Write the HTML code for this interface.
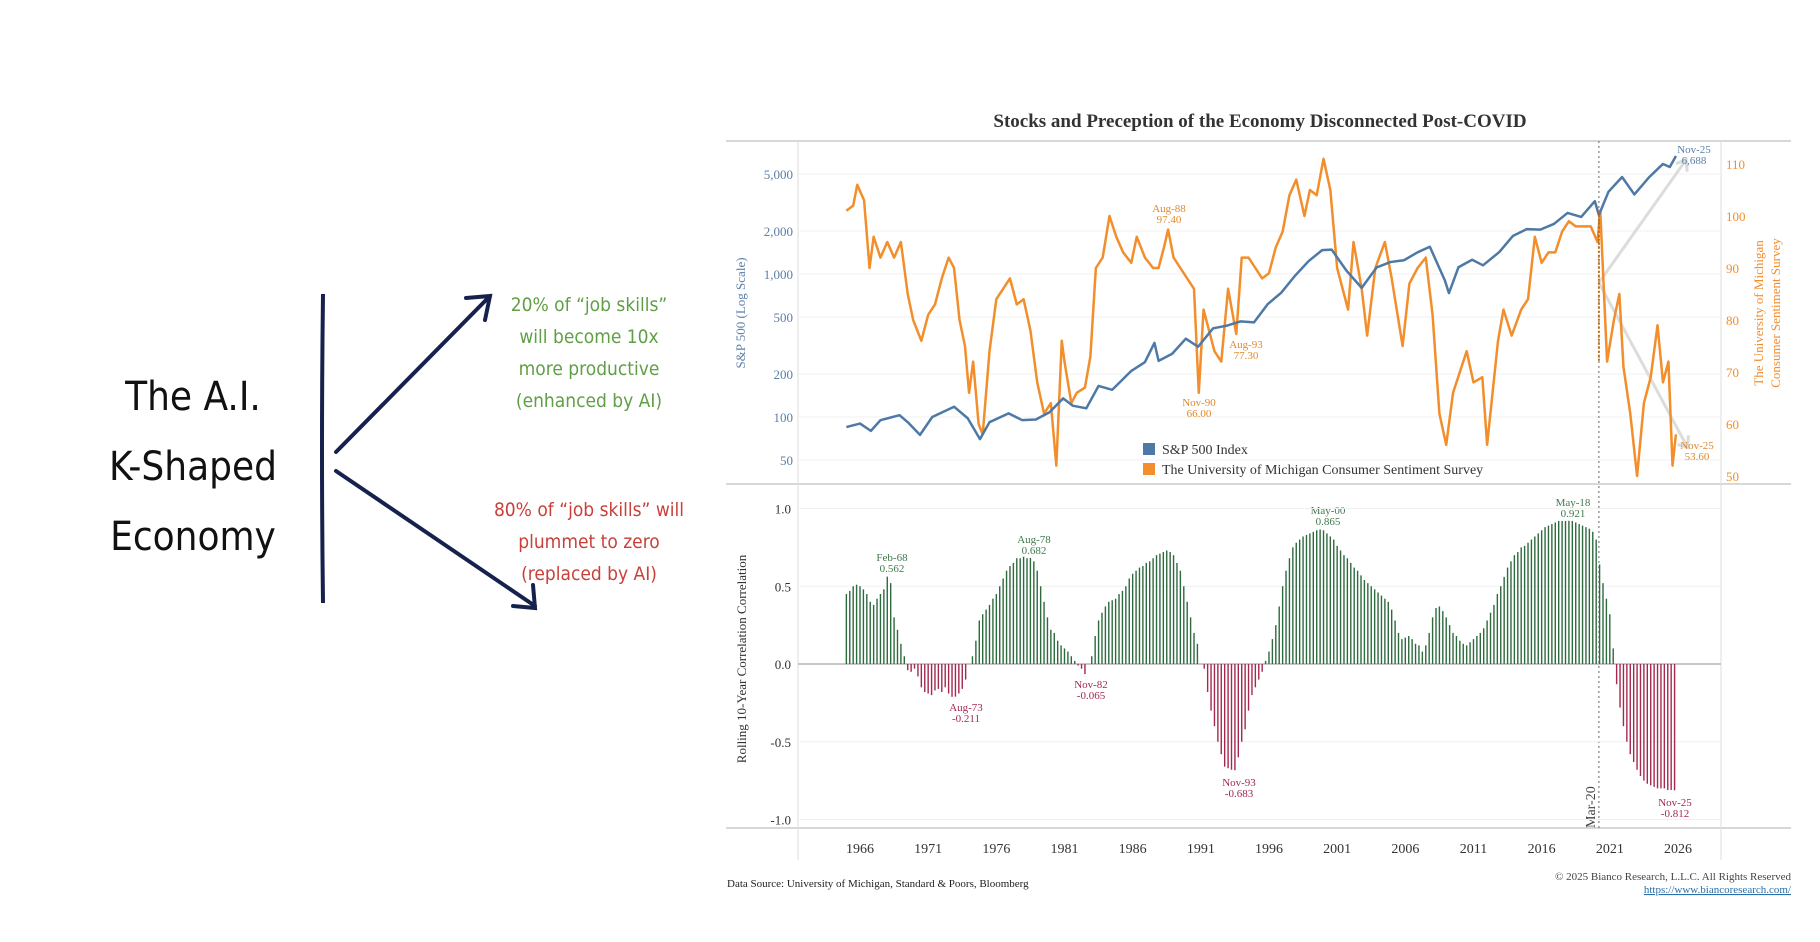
<!DOCTYPE html>
<html><head><meta charset="utf-8"><style>
html,body{margin:0;padding:0;background:#fff;}
svg{display:block;font-family:"Liberation Serif",serif;}
.hand{font-family:"DejaVu Sans Condensed","DejaVu Sans",sans-serif;}
</style></head><body>
<svg id="svg" width="1820" height="942" viewBox="0 0 1820 942" xmlns="http://www.w3.org/2000/svg">
<g>
  <text class="hand" x="193" y="410" font-size="40" text-anchor="middle" fill="#111">The A.I.</text>
  <text class="hand" x="193" y="480" font-size="40" text-anchor="middle" fill="#111">K-Shaped</text>
  <text class="hand" x="193" y="550" font-size="40" text-anchor="middle" fill="#111">Economy</text>
  <path d="M323 294 Q321 450 323 603" stroke="#16224d" stroke-width="4" fill="none"/>
  <path d="M336 452 L490 296 M466 298 L490 296 L485 320" stroke="#16224d" stroke-width="4" fill="none" stroke-linecap="round"/>
  <path d="M336 471 L535 606 M513 606 L535 608 L533 585" stroke="#16224d" stroke-width="4" fill="none" stroke-linecap="round"/>
  <g class="hand" font-size="19" fill="#5f9f45" text-anchor="middle">
    <text x="589" y="311">20% of “job skills”</text>
    <text x="589" y="343">will become 10x</text>
    <text x="589" y="375">more productive</text>
    <text x="589" y="407">(enhanced by AI)</text>
  </g>
  <g class="hand" font-size="19" fill="#c9403a" text-anchor="middle">
    <text x="589" y="516">80% of “job skills” will</text>
    <text x="589" y="548">plummet to zero</text>
    <text x="589" y="580">(replaced by AI)</text>
  </g>
</g>
<text x="1260" y="127" font-size="19" font-weight="bold" text-anchor="middle" fill="#333">Stocks and Preception of the Economy Disconnected Post-COVID</text>
<g id="chart"></g>
<text x="727" y="887" font-size="11" fill="#222">Data Source: University of Michigan, Standard &amp; Poors, Bloomberg</text>
<text x="1791" y="880" font-size="11" fill="#444" text-anchor="end">© 2025 Bianco Research, L.L.C. All Rights Reserved</text>
<text x="1791" y="893" font-size="11" fill="#2a6fa8" text-anchor="end" text-decoration="underline">https://www.biancoresearch.com/</text>
</svg>
<script>
const spxYears=[1965,1966,1966.8,1967.5,1968.9,1969.5,1970.4,1971.3,1972.9,1973.9,1974.8,1975.5,1976.9,1977.9,1978.9,1979.9,1980.9,1981.6,1982.6,1983.5,1984.5,1985.9,1986.9,1987.6,1987.9,1988.9,1989.9,1990.8,1991.9,1992.9,1993.9,1994.9,1995.9,1996.9,1997.9,1998.9,1999.9,2000.6,2001.7,2002.8,2003.9,2004.9,2005.9,2006.9,2007.8,2008.9,2009.2,2009.9,2010.9,2011.7,2012.9,2013.9,2014.9,2015.9,2016.9,2017.9,2018.9,2019.9,2020.2,2020.9,2021.9,2022.8,2023.9,2024.9,2025.4,2025.85];
const spxValues=[85,90,80,95,103,92,75,100,118,98,70,92,106,95,96,108,135,120,115,165,155,210,242,330,247,277,353,310,417,435,466,459,615,740,970,1229,1469,1480,1050,800,1112,1212,1248,1418,1550,903,735,1115,1258,1150,1426,1848,2059,2044,2239,2674,2507,3231,2585,3756,4766,3600,4770,5882,5600,6688];
const sentYears=[1965,1965.5,1965.8,1966.3,1966.7,1967,1967.5,1968,1968.5,1969,1969.5,1969.9,1970.5,1971,1971.5,1972,1972.5,1972.9,1973.3,1973.7,1974,1974.3,1974.7,1975,1975.5,1976,1976.5,1977,1977.5,1978,1978.5,1979,1979.5,1980,1980.4,1980.8,1981,1981.5,1981.9,1982.5,1982.9,1983.3,1983.8,1984.3,1984.8,1985.3,1985.9,1986.3,1986.9,1987.5,1987.9,1988.3,1988.6,1989,1989.5,1990,1990.5,1990.85,1991.2,1991.6,1992,1992.5,1993,1993.6,1994,1994.5,1995,1995.5,1996,1996.5,1997,1997.5,1998,1998.6,1999,1999.5,2000,2000.5,2001,2001.8,2002.2,2002.8,2003.2,2003.8,2004.5,2005,2005.8,2006.3,2006.9,2007.5,2008,2008.5,2009,2009.5,2010,2010.5,2011,2011.65,2012,2012.8,2013.2,2013.8,2014.5,2015,2015.5,2016,2016.5,2017,2017.5,2018,2018.5,2019,2019.6,2020.1,2020.3,2020.8,2021.3,2021.7,2022,2022.5,2023,2023.5,2024,2024.5,2024.9,2025.3,2025.6,2025.85];
const sentValues=[101,102,106,103,90,96,92,95,92,95,85,80,76,81,83,88,92,90,80,75,66,72,60,58,74,84,86,88,83,84,78,68,62,64,52,76,72,64,66,67,73,90,92,100,96,93,91,96,92,90,90,94,97.4,92,90,88,86,66,82,78,74,72,86,77.3,92,92,90,88,89,94,97,104,107,100,105,104,111,105,90,82,95,86,77,90,95,88,75,87,90,92,81,62,56,66,70,74,68,69,56,76,82,77,82,84,96,91,93,93,97,99,98,98,98,95,101,72,80,85,71,62,50,64,69,79,68,72,52,58,53.6];
const corrStart=1965.0;
const corrValues=[.45,.47,.50,.51,.50,.48,.45,.40,.38,.42,.45,.48,.562,.52,.30,.22,.13,.05,-.04,-.05,-.03,-.08,-.15,-.18,-.19,-.20,-.17,-.16,-.18,-.15,-.19,-.211,-.21,-.19,-.16,-.10,0,.05,.15,.28,.32,.35,.38,.42,.45,.50,.55,.60,.63,.65,.68,.68,.69,.68,.682,.66,.60,.50,.40,.30,.22,.20,.15,.12,.10,.08,.05,.02,-.01,-.03,-.065,0,.05,.18,.28,.33,.37,.40,.41,.42,.45,.47,.50,.55,.58,.60,.62,.63,.65,.66,.68,.70,.71,.72,.73,.72,.70,.65,.60,.50,.40,.30,.20,.13,0,-.03,-.18,-.30,-.40,-.50,-.58,-.66,-.67,-.68,-.683,-.60,-.50,-.42,-.30,-.20,-.15,-.10,-.05,.02,.08,.16,.25,.37,.50,.60,.68,.75,.78,.80,.82,.83,.84,.85,.86,.865,.86,.84,.82,.80,.76,.73,.70,.68,.65,.62,.60,.57,.54,.52,.50,.48,.46,.44,.42,.40,.35,.28,.20,.16,.17,.18,.16,.13,.12,.08,.12,.20,.30,.36,.37,.34,.30,.25,.20,.18,.15,.13,.12,.14,.16,.18,.20,.23,.28,.33,.38,.45,.50,.56,.62,.66,.70,.72,.75,.76,.78,.80,.82,.84,.86,.88,.89,.90,.91,.92,.92,.92,.921,.92,.91,.90,.89,.88,.87,.85,.80,.64,.52,.42,.32,.10,-.13,-.28,-.40,-.50,-.58,-.63,-.68,-.72,-.75,-.77,-.78,-.79,-.80,-.80,-.80,-.81,-.81,-.812];
const spxTicks=[50,100,200,500,1000,2000,5000];
const spxTickLabels=["50","100","200","500","1,000","2,000","5,000"];
const sentTicks=[50,60,70,80,90,100,110];
const corrTicks=[-1,-0.5,0,0.5,1];
const corrTickLabels=["-1.0","-0.5","0.0","0.5","1.0"];
const yearTicks=[1966,1971,1976,1981,1986,1991,1996,2001,2006,2011,2016,2021,2026];

const NS='http://www.w3.org/2000/svg';
const g=document.getElementById('chart');
function mk(tag,attrs,parent,txt){const e=document.createElementNS(NS,tag);for(const k in attrs)e.setAttribute(k,attrs[k]);if(txt!==undefined)e.textContent=txt;(parent||g).appendChild(e);return e;}
const X=y=>860+(y-1966)*13.633;
const YL=v=>417-143*Math.log10(v/100);
const YR=v=>164+(110-v)*5.2;
const YC=v=>664-v*155.5;

// frames
let e;
e=mk('rect',{x:726,y:141,width:1065,height:687,fill:'none',stroke:'none'});


[[726,141,1791,141],[726,484,1791,484],[726,828,1791,828]].forEach(a=>{const l=mk('line',{x1:a[0],y1:a[1],x2:a[2],y2:a[3],stroke:'#ccc','stroke-width':1.5});});
[798,1721].forEach(x=>{const l=mk('line',{x1:x,y1:141,x2:x,y2:860,stroke:'#ddd','stroke-width':1});});

// top gridlines & ticks
spxTicks.forEach((v,i)=>{
  const l=mk('line',{x1:798,x2:1721,y1:YL(v),y2:YL(v),stroke:'#f0f0f0'});
  
  
  const t=mk('text',{x:793,y:YL(v)+5,'font-size':13,fill:'#5a7fa8','text-anchor':'end'},g,spxTickLabels[i]);
  
  
});
sentTicks.forEach(v=>{
  const t=mk('text',{x:1726,y:YR(v)+5,'font-size':13,fill:'#f28e2b'},g,String(v));
  
  
});
e=mk('text',{transform:'translate(745,313) rotate(-90)','font-size':13,fill:'#5a7fa8','text-anchor':'middle'},g,'S&P 500 (Log Scale)');


e=mk('text',{transform:'translate(1763,313) rotate(-90)','font-size':13,fill:'#f28e2b','text-anchor':'middle'},g,'The University of Michigan');


e=mk('text',{transform:'translate(1780,313) rotate(-90)','font-size':13,fill:'#f28e2b','text-anchor':'middle'},g,'Consumer Sentiment Survey');



// gray arrows
const ax=X(2020.2), ay=YL(870);
e=mk('path',{d:`M${ax} ${ay} L${X(2026.6)} ${YL(6300)} M${ax} ${ay} L${X(2026.7)} ${YR(55.5)}`,stroke:'#dcdcdc','stroke-width':3,fill:'none'});


e=mk('path',{d:`M${X(2026.6)-10} ${YL(6300)+4} L${X(2026.6)} ${YL(6300)} L${X(2026.6)+1} ${YL(6300)+12} M${X(2026.7)-10} ${YR(55.5)-3} L${X(2026.7)} ${YR(55.5)} L${X(2026.7)+1} ${YR(55.5)-12}`,stroke:'#dcdcdc','stroke-width':3,fill:'none'});



// lines
e=mk('polyline',{points:sentYears.map((y,i)=>X(y)+','+YR(sentValues[i])).join(' '),fill:'none',stroke:'#f28e2b','stroke-width':2.5,'stroke-linejoin':'round'});


e=mk('polyline',{points:spxYears.map((y,i)=>X(y)+','+YL(spxValues[i])).join(' '),fill:'none',stroke:'#4e79a7','stroke-width':2.5,'stroke-linejoin':'round'});



// Mar-20 line
e=mk('line',{x1:X(2020.2),x2:X(2020.2),y1:141,y2:828,stroke:'#666','stroke-dasharray':'2,3'});


e=mk('line',{x1:X(2020.2),x2:X(2020.2),y1:YR(101),y2:YR(72),stroke:'#c66a10','stroke-width':2,'stroke-dasharray':'2,2'});


e=mk('text',{transform:`translate(${X(2020.2)-4},828) rotate(-90)`,'font-size':14,fill:'#444'},g,'Mar-20');



// legend
e=mk('rect',{x:1143,y:443,width:12,height:12,fill:'#4e79a7'});


e=mk('text',{x:1162,y:454,'font-size':14,fill:'#333'},g,'S&P 500 Index');


e=mk('rect',{x:1143,y:463,width:12,height:12,fill:'#f28e2b'});


e=mk('text',{x:1162,y:474,'font-size':14,fill:'#333'},g,'The University of Michigan Consumer Sentiment Survey');



// annotations
const notes=[[1694,153,'Nov-25','6,688','#5a7fa8'],[1169,212,'Aug-88','97.40','#e08a2e'],[1246,348,'Aug-93','77.30','#e08a2e'],[1199,406,'Nov-90','66.00','#e08a2e'],[1697,449,'Nov-25','53.60','#e08a2e'],
[892,561,'Feb-68','0.562','#3f7a4c'],[1034,543,'Aug-78','0.682','#3f7a4c'],[1328,514,'May-00','0.865','#3f7a4c'],[1573,506,'May-18','0.921','#3f7a4c'],
[966,711,'Aug-73','-0.211','#a3294f'],[1091,688,'Nov-82','-0.065','#a3294f'],[1239,786,'Nov-93','-0.683','#a3294f'],[1675,806,'Nov-25','-0.812','#a3294f']];
notes.forEach(n=>{
  const t=mk('text',{x:n[0],y:n[1],'font-size':11,fill:n[4],'text-anchor':'middle'});
  
  
  mk('tspan',{x:n[0],dy:0},t,n[2]);
  mk('tspan',{x:n[0],dy:11},t,n[3]);
});

// bottom panel
corrTicks.forEach((v,i)=>{
  const l=mk('line',{x1:798,x2:1721,y1:YC(v),y2:YC(v),stroke:v===0?'#c8c8c8':'#f0f0f0','stroke-width':v===0?2:1});
  
  
  const t=mk('text',{x:791,y:YC(v)+5,'font-size':13,fill:'#333','text-anchor':'end'},g,corrTickLabels[i]);
  
  
});
e=mk('text',{transform:'translate(746,659) rotate(-90)','font-size':13,fill:'#333','text-anchor':'middle'},g,'Rolling 10-Year Correlation Correlation');


corrValues.forEach((v,i)=>{
  const x=X(corrStart+i*0.25);
  const y0=YC(0), y1=YC(v);
  const r=mk('rect',{x:x-0.7,y:Math.min(y0,y1),width:1.4,height:Math.abs(y1-y0),fill:v>=0?'#2d6a3e':'#a3294f'});
  
  
});
yearTicks.forEach(yr=>{
  const t=mk('text',{x:X(yr),y:853,'font-size':14,fill:'#333','text-anchor':'middle'},g,String(yr));
  
  
});
</script>
</body></html>
